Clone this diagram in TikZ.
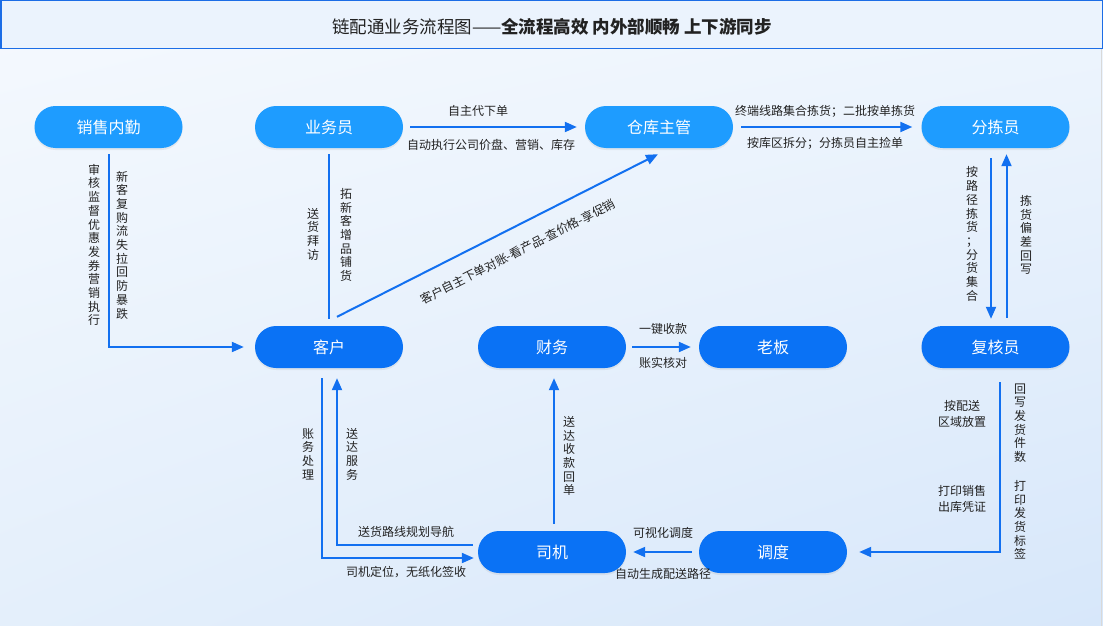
\documentclass[tikz,border=0pt]{standalone}
\usepackage{fontspec}
\setmainfont{Noto Sans CJK SC}
\usetikzlibrary{arrows.meta,calc,shadows,shadings}
\definecolor{nodeA}{HTML}{1E9CFF}
\definecolor{nodeB}{HTML}{0A72F5}
\definecolor{lnc}{HTML}{1270F0}
\definecolor{txt}{HTML}{222222}
\definecolor{titlebg}{HTML}{EBF3FD}
\definecolor{titleln}{HTML}{1C6DE6}
\definecolor{bgUL}{HTML}{F5F9FE}
\definecolor{bgUR}{HTML}{EEF5FD}
\definecolor{bgLL}{HTML}{E4EFFB}
\definecolor{bgLR}{HTML}{D7E7FA}
\tikzset{
  pill/.style={rectangle, rounded corners=21pt, minimum width=148pt, minimum height=42pt,
    text=white, font=\fontsize{16}{18}\selectfont, inner sep=0pt,
    drop shadow={opacity=0.12, shadow xshift=0pt, shadow yshift=-2pt}},
  pillA/.style={pill, fill=nodeA},
  pillB/.style={pill, fill=nodeB},
  conn/.style={draw=lnc, line width=2pt},
  arr/.style={conn, -{Triangle[length=12pt,width=10pt]}},
  lab/.style={text=txt, font=\fontsize{12}{16}\selectfont, inner sep=0pt, align=center},
  vlab/.style={text=txt, font=\fontsize{12}{13.7}\selectfont, inner sep=0pt, align=center},
}
\begin{document}
\begin{tikzpicture}[x=1pt,y=-1pt]
\useasboundingbox (0,0) rectangle (1103,626);
\shade[upper left=bgUL, upper right=bgUR, lower left=bgLL, lower right=bgLR] (0,0) rectangle (1103,626);
\draw[gray!30, line width=1pt] (1101,49) -- (1101,626);
% title bar
\draw[fill=titlebg, draw=titleln, line width=1.5pt] (0.75,0.75) rectangle (1102.25,48.5);
\node[text=txt, font=\fontsize{17.5}{20}\selectfont] (title) at (552,27) {链配通业务流程图——{\bfseries 全流程高效 内外部顺畅 上下游同步}};
% nodes
\node[pillA] (xsnq) at (108.5,127) {销售内勤};
\node[pillA] (ywy) at (329,127) {业务员};
\node[pillA] (ck) at (659,127) {仓库主管};
\node[pillA] (fjy) at (995.5,127) {分拣员};
\node[pillB] (kh) at (329,347) {客户};
\node[pillB] (cw) at (552,347) {财务};
\node[pillB] (lb) at (773,347) {老板};
\node[pillB] (fhy) at (995.5,347) {复核员};
\node[pillB] (sj) at (552,552) {司机};
\node[pillB] (dd) at (773,552) {调度};
% connectors
\draw[arr] ($(xsnq.south)+(0,6)$) |- ($(kh.west)+(-11,0)$);
\draw[conn] ($(ywy.south)+(0,6)$) -- ($(kh.north)+(0,-7)$);
\draw[arr] ($(ywy.east)+(7,0)$) -- ($(ck.west)+(-8,0)$);
\draw[arr] ($(kh.north)+(8,-9)$) -- node[pos=0.53, sloped, below=17pt, lab] (diag) {客户自主下单对账-看产品-查价格-享促销} ($(ck.south)+(-1,6)$);
\draw[arr] ($(ck.east)+(8,0)$) -- ($(fjy.west)+(-9,0)$);
\draw[arr] ($(fjy.south)+(-4.5,10)$) -- ($(fhy.north)+(-4.5,-7)$);
\draw[arr] ($(fhy.north)+(11,-8)$) -- ($(fjy.south)+(11,6)$);
\draw[arr] ($(cw.east)+(6,0)$) -- ($(lb.west)+(-8,0)$);
\draw[arr] ($(fhy.south)+(4.5,14)$) |- ($(dd.east)+(12,0)$);
\draw[arr] ($(dd.west)+(-7,0)$) -- ($(sj.east)+(7,0)$);
\draw[arr] ($(sj.north)+(2,-7)$) -- ($(cw.south)+(2,10)$);
\draw[arr] ($(sj.west)+(-5,-7)$) -| ($(kh.south)+(8,10)$);
\draw[arr] ($(kh.south)+(-7,10)$) |- ($(sj.west)+(-4,6)$);
% horizontal labels
\node[lab] (l1) at (478,111) {自主代下单};
\node[lab] (l2) at (491,145) {自动执行公司价盘、营销、库存};
\node[lab] (l3) at (825,111) {终端线路集合拣货；二批按单拣货};
\node[lab] (l4) at (825,143) {按库区拆分；分拣员自主捡单};
\node[lab] (l5) at (663,329) {一键收款};
\node[lab] (l6) at (663,363) {账实核对};
\node[lab] (l7) at (962,414) {按配送\\区域放置};
\node[lab] (l8) at (962,499) {打印销售\\出库凭证};
\node[lab] (l9) at (406,532) {送货路线规划导航};
\node[lab] (l10) at (406,572) {司机定位，无纸化签收};
\node[lab] (l11) at (663,533) {可视化调度};
\node[lab] (l12) at (663,574) {自动生成配送路径};
% vertical labels
\node[vlab] (v1) at (94,245) {审\\核\\监\\督\\优\\惠\\发\\券\\营\\销\\执\\行};
\node[vlab] (v2) at (122,245) {新\\客\\复\\购\\流\\失\\拉\\回\\防\\暴\\跌};
\node[vlab] (v3) at (313,234) {送\\货\\拜\\访};
\node[vlab] (v4) at (346,235) {拓\\新\\客\\增\\品\\铺\\货};
\node[vlab] (v5) at (972,234) {按\\路\\径\\拣\\货\\；\\分\\货\\集\\合};
\node[vlab] (v6) at (1026,235) {拣\\货\\偏\\差\\回\\写};
\node[vlab] (v7) at (1020,423) {回\\写\\发\\货\\件\\数};
\node[vlab] (v8) at (1020,520) {打\\印\\发\\货\\标\\签};
\node[vlab] (v9) at (308,454) {账\\务\\处\\理};
\node[vlab] (v10) at (352,454) {送\\达\\服\\务};
\node[vlab] (v11) at (569,456) {送\\达\\收\\款\\回\\单};
\end{tikzpicture}
\end{document}
